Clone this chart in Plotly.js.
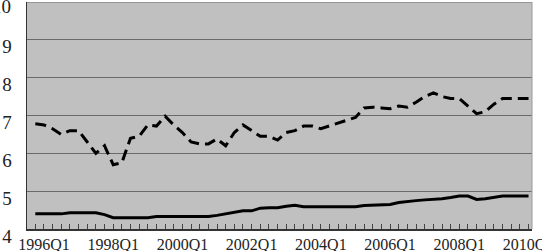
<!DOCTYPE html>
<html>
<head>
<meta charset="utf-8">
<script src="https://cdn.plot.ly/plotly-3.0.1.min.js"></script>
<style>html,body{margin:0;padding:0;background:#fff;}#chart{width:542px;height:251px;}</style>
</head>
<body>
<div id="chart"></div>
<script>
var quarters = [
  "1995Q4",
  "1996Q1","1996Q2","1996Q3","1996Q4",
  "1997Q1","1997Q2","1997Q3","1997Q4",
  "1998Q1","1998Q2","1998Q3","1998Q4",
  "1999Q1","1999Q2","1999Q3","1999Q4",
  "2000Q1","2000Q2","2000Q3","2000Q4",
  "2001Q1","2001Q2","2001Q3","2001Q4",
  "2002Q1","2002Q2","2002Q3","2002Q4",
  "2003Q1","2003Q2","2003Q3","2003Q4",
  "2004Q1","2004Q2","2004Q3","2004Q4",
  "2005Q1","2005Q2","2005Q3","2005Q4",
  "2006Q1","2006Q2","2006Q3","2006Q4",
  "2007Q1","2007Q2","2007Q3","2007Q4",
  "2008Q1","2008Q2","2008Q3","2008Q4",
  "2009Q1","2009Q2","2009Q3","2009Q4",
  "2010Q1"
];
var tickLabels = ["1996Q1","1998Q1","2000Q1","2002Q1","2004Q1","2006Q1","2008Q1","2010Q1"];
var yTickValues = [4, 5, 6, 7, 8, 9];
var yTopValue = 10;

var dashedSeries = [
  6.78, 6.75, 6.65, 6.50, 6.60, 6.60, 6.30, 6.00, 6.20, 5.70,
  5.75, 6.40, 6.45, 6.75, 6.72, 6.98, 6.75, 6.55, 6.30, 6.25,
  6.25, 6.38, 6.20, 6.55, 6.75, 6.60, 6.45, 6.45, 6.35, 6.55,
  6.60, 6.72, 6.72, 6.65, 6.72, 6.80, 6.88, 6.95, 7.20, 7.22,
  7.20, 7.18, 7.25, 7.22, 7.35, 7.50, 7.60, 7.50, 7.45, 7.45,
  7.25, 7.05, 7.10, 7.30, 7.45, 7.45, 7.45, 7.45
];
var solidSeries = [
  4.40, 4.40, 4.40, 4.40, 4.43, 4.43, 4.43, 4.43, 4.38, 4.30,
  4.30, 4.30, 4.30, 4.30, 4.33, 4.33, 4.33, 4.33, 4.33, 4.33,
  4.33, 4.36, 4.40, 4.43, 4.48, 4.48, 4.55, 4.56, 4.56, 4.60,
  4.63, 4.59, 4.59, 4.59, 4.59, 4.59, 4.59, 4.59, 4.62, 4.63,
  4.63, 4.65, 4.70, 4.73, 4.75, 4.77, 4.78, 4.80, 4.83, 4.87,
  4.87, 4.78, 4.80, 4.83, 4.87, 4.87, 4.87, 4.87
];

var tickText = quarters.map(function(q){ return tickLabels.indexOf(q) >= 0 ? q : ""; });

var traces = [
  {x: quarters, y: dashedSeries, type: "scatter", mode: "lines",
   line: {color: "#000", width: 3, dash: "11px,6px"}, hoverinfo: "skip"},
  {x: quarters, y: solidSeries, type: "scatter", mode: "lines",
   line: {color: "#000", width: 3}, hoverinfo: "skip"}
];

var layout = {
  width: 542, height: 251,
  margin: {l: 27, r: 10, t: 2, b: 22, pad: 0},
  paper_bgcolor: "#ffffff",
  plot_bgcolor: "#c0c0c0",
  showlegend: false,
  font: {family: "Liberation Serif, Times New Roman, serif", color: "#222", size: 16},
  xaxis: {
    type: "category",
    range: [-0.96, 57.4],
    tickmode: "array", tickvals: quarters, ticktext: tickText,
    ticks: "inside", ticklen: 5, tickwidth: 1, tickcolor: "#444",
    showgrid: false, zeroline: false,
    showline: true, linecolor: "#333", linewidth: 1.5,
    tickangle: 0,
    tickfont: {size: 16, family: "Liberation Serif, serif", color: "#222"},
    mirror: false
  },
  yaxis: {
    range: [4, 10],
    tickmode: "array", tickvals: yTickValues,
    showgrid: true, gridcolor: "#6a6a6a", gridwidth: 1,
    zeroline: false, ticks: "",
    showline: true, linecolor: "#333", linewidth: 1.5,
    ticklabelshift: 7, ticklabelstandoff: 10,
    tickfont: {size: 19, family: "Liberation Serif, serif", color: "#222"}
  },
  shapes: [
    {type: "line", xref: "paper", yref: "y", x0: 0, x1: 1, y0: yTopValue, y1: yTopValue,
     line: {color: "#6a6a6a", width: 1}},
    {type: "line", xref: "paper", yref: "paper", x0: 1, x1: 1, y0: 0, y1: 1,
     line: {color: "#9a9a9a", width: 1}}
  ],
  annotations: [
    {xref: "paper", yref: "y", x: 0, y: yTopValue, text: String(yTopValue),
     showarrow: false, xanchor: "right", yanchor: "middle", xshift: -14, yshift: -4,
     font: {size: 19, family: "Liberation Serif, serif", color: "#222"}}
  ]
};

Plotly.newPlot("chart", traces, layout, {staticPlot: true, displayModeBar: false});
</script>
</body>
</html>
